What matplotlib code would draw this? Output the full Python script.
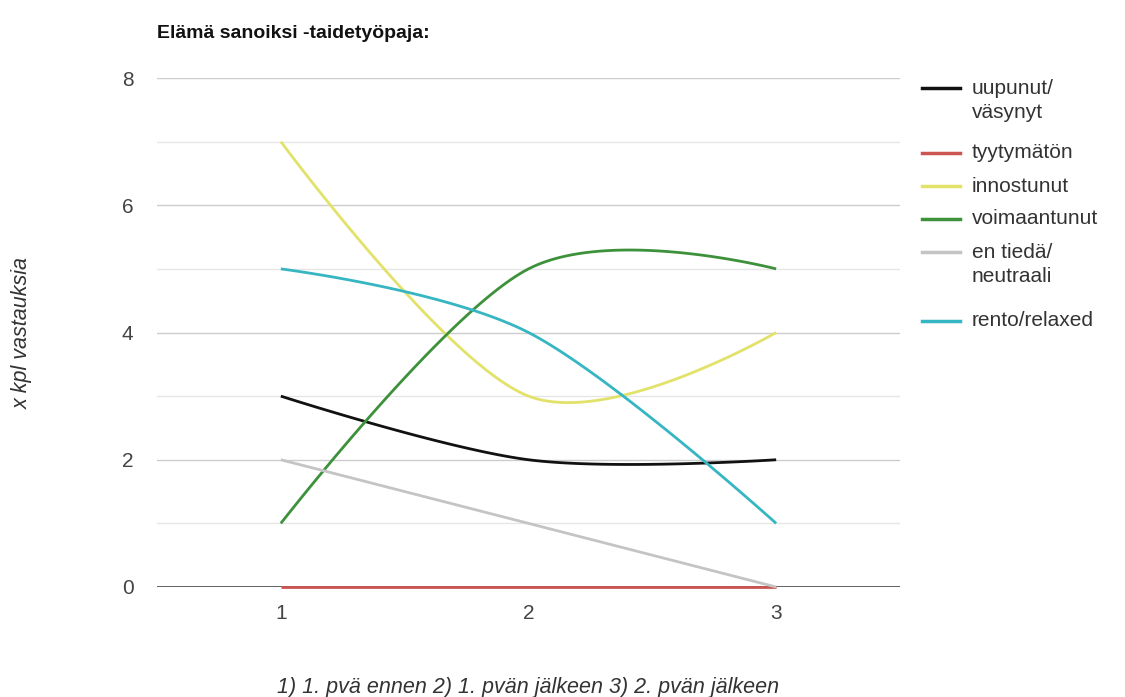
import numpy as np
import matplotlib
matplotlib.use("Agg")
import matplotlib.pyplot as plt
from matplotlib.lines import Line2D

plt.rcParams['font.family'] = ['Liberation Sans', 'DejaVu Sans']

title = "Elämä sanoiksi -taidetyöpaja:"
x_vals = [1, 2, 3]
series_names = ["uupunut/\nväsynyt", "tyytymätön", "innostunut", "voimaantunut",
                "en tiedä/\nneutraali", "rento/relaxed"]
uupunut = [3, 2, 2]
tyytymaton = [0, 0, 0]
innostunut = [7, 3, 4]
voimaantunut = [1, 5, 5]
en_tieda = [2, 1, 0]
rento = [5, 4, 1]
series_values = [uupunut, tyytymaton, innostunut, voimaantunut, en_tieda, rento]
colors = ["#111111", "#cc5552", "#e2e26a", "#3d913b", "#c4c4c4", "#36b6c2"]
y_ticks = [0, 2, 4, 6, 8]
x_ticks = [1, 2, 3]
xlabel = "1) 1. pvä ennen 2) 1. pvän jälkeen 3) 2. pvän jälkeen"
ylabel = "x kpl vastauksia"


def smooth(xs, ys, n=60, k=1/6):
    P = np.column_stack([xs, ys]).astype(float)
    m = len(P)
    out = []
    for i in range(m - 1):
        p0 = P[i]
        p3 = P[i + 1]
        prev = P[i - 1] if i > 0 else P[i]
        nxt = P[i + 2] if i + 2 < m else P[i + 1]
        c1 = p0 + k * (p3 - prev) if i > 0 else p0
        c2 = p3 - k * (nxt - p0) if i + 2 < m else p3
        t = np.linspace(0, 1, n)[:, None]
        seg = ((1 - t) ** 3) * p0 + 3 * ((1 - t) ** 2) * t * c1 + 3 * (1 - t) * t ** 2 * c2 + t ** 3 * p3
        if i > 0:
            seg = seg[1:]
        out.append(seg)
    out = np.vstack(out)
    return out[:, 0], out[:, 1]


W, H = 1125, 697
fig = plt.figure(figsize=(W / 100, H / 100), dpi=100)
left, right, top, bottom = 157, 900, 78, 587
ax = fig.add_axes([left / W, 1 - bottom / H, (right - left) / W, (bottom - top) / H])

ax.set_xlim(0.5, 3.5)
ax.set_ylim(0, 8)
for y in range(1, 9):
    ax.axhline(y, color="#cccccc" if y % 2 == 0 else "#e6e6e6", lw=1.0, zorder=0)
ax.axhline(0, color="#555555", lw=1.3, zorder=1)

for vals, c in zip(series_values, colors):
    sx, sy = smooth(x_vals, vals)
    ax.plot(sx, sy, color=c, lw=2.0, zorder=3, solid_capstyle="butt", clip_on=False)

for s in ax.spines.values():
    s.set_visible(False)
ax.set_yticks(y_ticks)
ax.set_yticklabels([str(v) for v in y_ticks])
ax.set_xticks(x_ticks)
ax.set_xticklabels([str(v) for v in x_ticks])
ax.tick_params(length=0, labelsize=15, colors="#444444")
ax.tick_params(axis="y", pad=17)
ax.tick_params(axis="x", pad=12)

fig.text(157 / W, 1 - 33 / H, title, fontsize=14, fontweight="bold", color="#111111",
         ha="left", va="center")
fig.text(22 / W, 1 - 333 / H, ylabel, fontsize=15.5, style="italic", color="#333333",
         rotation=90, ha="center", va="center")
fig.text(528 / W, 1 - 687 / H, xlabel, fontsize=15.5, style="italic", color="#333333",
         ha="center", va="center")

# legend
row_y = [88, 153, 186, 219, 252, 321]
for name, c, yy in zip(series_names, colors, row_y):
    fig.add_artist(Line2D([922 / W, 960 / W], [1 - yy / H, 1 - yy / H], color=c, lw=2.5,
                          transform=fig.transFigure))
    fig.text(972 / W, 1 - yy / H, name.split("\n")[0], fontsize=15, color="#333333",
             ha="left", va="center")
    if "\n" in name:
        fig.text(972 / W, 1 - (yy + 24) / H, name.split("\n")[1], fontsize=15, color="#333333",
                 ha="left", va="center")

fig.savefig("out.png", dpi=100, facecolor="white")
